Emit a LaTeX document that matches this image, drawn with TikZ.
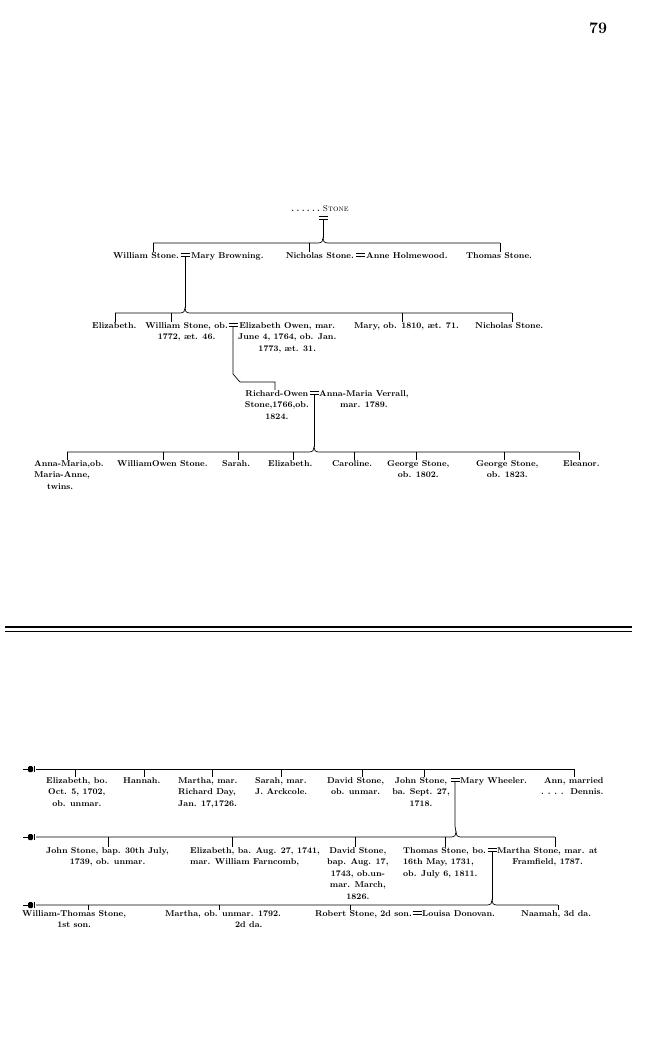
\documentclass[tikz,border=0pt]{standalone}
\usepackage{fontspec}
\newcommand\marsign[1]{\draw[ln] ([xshift=-4.5pt,yshift=1.4pt]#1) -- ++(9,0) ([xshift=-4.5pt,yshift=-1.4pt]#1) -- ++(9,0);}
\newcommand\tick[2]{\draw[ln] (#1) -- (#1 |- #2.north);}
\newcommand\pointhand[1]{%
  \draw[line width=1.1pt] (#1) ++(-13,0.3) -- ++(6,0);
  \fill[rounded corners=1.2pt] (#1) ++(-8,-2.8) rectangle ++(5,5.8);
  \draw[line width=0.9pt] (#1) ++(-1.8,-3.2) -- ++(0,6.6);}
\begin{document}
\begin{tikzpicture}[x=1pt,y=-1pt,
  ln/.style={line width=0.7pt},
  per/.style={inner sep=0pt, font=\fontsize{8.5}{11.5}\selectfont\bfseries\addfontfeatures{FakeBold=1}, align=center},
  perl/.style={per, align=left},
  perr/.style={per, align=right}]
\path[use as bounding box] (0,0) rectangle (650,1040);
\fill[white] (0,0) rectangle (650,1040);

% page number
\node[inner sep=0pt, font=\fontsize{16}{16}\selectfont\bfseries] (pg) at (598,28) {79};

% ---------- upper pedigree ----------
\node[inner sep=0pt, font=\fontsize{8.5}{10}\selectfont\addfontfeatures{FakeBold=1}] (stone) at (320,209) {\textbf{.\;.\;.\;.\;.\;.}\ \textsc{Stone}};
\coordinate (m0) at (323,218);
\marsign{m0}
\coordinate (j0) at (323,238);
\draw[ln] ([yshift=-1.4pt]m0) -- (j0);

% row 1
\node[per, anchor=north east] (ws) at (179,252) {William Stone.};
\coordinate (m1) at (185,255);
\marsign{m1}
\node[per, anchor=north west] (mb) at (191,252) {Mary Browning.};
\node[per, anchor=north east] (ns) at (354,252) {Nicholas Stone.};
\coordinate (m2) at (360,255);
\marsign{m2}
\node[per, anchor=north west] (ah) at (366,252) {Anne Holmewood.};
\node[per, anchor=north west] (ts) at (466,252) {Thomas Stone.};
\draw[ln] (153,243) -- (318,243) .. controls (322,243) and (323,241) .. (j0) .. controls (323,241) and (324,243) .. (328,243) -- (500,243);
\coordinate (b1a) at (153,243);
\coordinate (b1b) at (309,243);
\coordinate (b1c) at (500,243);
\tick{b1a}{ws}
\tick{b1b}{ns}
\tick{b1c}{ts}

% row 2
\coordinate (j1) at (185,308);
\draw[ln] ([yshift=-1.4pt]m1) -- (j1);
\draw[ln] (115,313) -- (180,313) .. controls (184,313) and (185,311) .. (j1) .. controls (185,311) and (186,313) .. (190,313) -- (512,313);
\node[perl, anchor=north west] (el1) at (92,322) {Elizabeth.};
\node[per, anchor=north east] (wso) at (228,322) {William Stone, ob.\\1772, æt. 46.};
\coordinate (m3) at (233,325);
\marsign{m3}
\node[per, anchor=north west] (eo) at (238,322) {Elizabeth Owen, mar.\\June 4, 1764, ob. Jan.\\1773, æt. 31.};
\node[per, anchor=north west] (mary) at (354,322) {Mary, ob. 1810, æt. 71.};
\node[per, anchor=north west] (ns2) at (475,322) {Nicholas Stone.};
\coordinate (b2a) at (115,313);
\coordinate (b2b) at (171,313);
\coordinate (b2c) at (402,313);
\coordinate (b2d) at (512,313);
\tick{b2a}{el1}
\tick{b2b}{wso}
\tick{b2c}{mary}
\tick{b2d}{ns2}

% row 3
\node[per, anchor=north east] (ro) at (309,390) {Richard-Owen\\Stone,1766,ob.\\1824.};
\coordinate (m4) at (314,393);
\marsign{m4}
\node[per, anchor=north west] (amv) at (319,390) {Anna-Maria Verrall,\\mar. 1789.};
\coordinate (k3) at (275,382);
\draw[ln] ([yshift=-1.4pt]m3) -- (233,374) -- (240,382) -- (k3) -- (k3 |- ro.north);

% row 4
\coordinate (j4) at (314,447);
\draw[ln] ([yshift=-1.4pt]m4) -- (j4);
\draw[ln] (67,452) -- (309,452) .. controls (313,452) and (314,450) .. (j4) .. controls (314,450) and (315,452) .. (319,452) -- (579,452);
\node[perl, anchor=north west] (am) at (34,460) {Anna-Maria,ob.\\Maria-Anne,\\\hspace*{13pt}twins.};
\node[per, anchor=north west] (wos) at (117,460) {WilliamOwen Stone.};
\node[per, anchor=north west] (sa) at (222,460) {Sarah.};
\node[per, anchor=north west] (el2) at (268,460) {Elizabeth.};
\node[per, anchor=north west] (ca) at (332,460) {Caroline.};
\node[per, anchor=north west] (gs1) at (387,460) {George Stone,\\ob. 1802.};
\node[per, anchor=north west] (gs2) at (476,460) {George Stone,\\ob. 1823.};
\node[per, anchor=north west] (ele) at (563,460) {Eleanor.};
\coordinate (b4a) at (67,452);
\coordinate (b4b) at (163,452);
\coordinate (b4c) at (238,452);
\coordinate (b4d) at (293,452);
\coordinate (b4e) at (354,452);
\coordinate (b4f) at (416,452);
\coordinate (b4g) at (504,452);
\coordinate (b4h) at (579,452);
\tick{b4a}{am}
\tick{b4b}{wos}
\tick{b4c}{sa}
\tick{b4d}{el2}
\tick{b4e}{ca}
\tick{b4f}{gs1}
\tick{b4g}{gs2}
\tick{b4h}{ele}

% ---------- separator ----------
\coordinate (sl1) at (5,627);
\coordinate (sr1) at (632,627);
\coordinate (sl2) at (5,631.5);
\coordinate (sr2) at (632,631.5);
\draw[line width=1.7pt] (sl1) -- (sr1);
\draw[line width=0.8pt] (sl2) -- (sr2);

% ---------- lower pedigree ----------
% row A
\coordinate (hA) at (36,769);
\pointhand{hA}
\draw[ln] (hA) -- (574,769);
\node[per, anchor=north west] (eA) at (46,777) {Elizabeth, bo.\\Oct. 5, 1702,\\ob. unmar.};
\node[per, anchor=north west] (ha) at (123,777) {Hannah.};
\node[perl, anchor=north west] (ma) at (178,777) {Martha, mar.\\Richard Day,\\Jan. 17,1726.};
\node[perl, anchor=north west] (saA) at (255,777) {Sarah, mar.\\J. Arckcole.};
\node[per, anchor=north west] (dsA) at (327,777) {David Stone,\\ob. unmar.};
\node[per, anchor=north east] (js) at (450,777) {John Stone,\\ba. Sept. 27,\\1718.};
\coordinate (m5) at (455,780);
\marsign{m5}
\node[per, anchor=north west] (mw) at (460,777) {Mary Wheeler.};
\node[perr, anchor=north west] (ann) at (541,777) {Ann, married\\.\;\,.\;\,.\;\,.\ \ Dennis.};
\coordinate (bAa) at (75,769);
\coordinate (bAb) at (144,769);
\coordinate (bAc) at (212,769);
\coordinate (bAd) at (281,769);
\coordinate (bAe) at (362,769);
\coordinate (bAf) at (424,769);
\coordinate (bAg) at (574,769);
\tick{bAa}{eA}
\tick{bAb}{ha}
\tick{bAc}{ma}
\tick{bAd}{saA}
\tick{bAe}{dsA}
\tick{bAf}{js}
\tick{bAg}{ann}

% row B
\coordinate (j5) at (456,832);
\draw[ln] ([yshift=-1.4pt]m5) -- (455,826) -- (j5);
\coordinate (hB) at (36,837);
\pointhand{hB}
\draw[ln] (hB) -- (451,837) .. controls (455,837) and (456,835) .. (j5) .. controls (456,835) and (457,837) .. (461,837) -- (555,837);
\node[per, anchor=north west] (jsB) at (46,847) {John Stone, bap. 30th July,\\1739, ob. unmar.};
\node[perl, anchor=north west] (elB) at (190,847) {Elizabeth, ba. Aug. 27, 1741,\\mar. William Farncomb,};
\node[per, anchor=north west] (dsB) at (327,847) {David Stone,\\bap. Aug. 17,\\1743, ob.un-\\mar. March,\\1826.};
\node[perl, anchor=north west] (tsB) at (403,847) {Thomas Stone, bo.\\16th May, 1731,\\ob. July 6, 1811.};
\coordinate (m6) at (492,850);
\marsign{m6}
\node[per, anchor=north west] (msB) at (497,847) {Martha Stone, mar. at\\Framfield, 1787.};
\coordinate (bBa) at (108,837);
\coordinate (bBb) at (232,837);
\coordinate (bBc) at (355,837);
\coordinate (bBd) at (445,837);
\coordinate (bBe) at (555,837);
\tick{bBa}{jsB}
\tick{bBb}{elB}
\tick{bBc}{dsB}
\tick{bBd}{tsB}
\tick{bBe}{msB}

% row C
\coordinate (j6) at (492,900);
\draw[ln] ([yshift=-1.4pt]m6) -- (j6);
\coordinate (hC) at (36,905);
\pointhand{hC}
\draw[ln] (hC) -- (487,905) .. controls (491,905) and (492,903) .. (j6) .. controls (492,903) and (493,905) .. (497,905) -- (558,905);
\node[per, anchor=north west] (wt) at (22,910) {William-Thomas Stone,\\1st son.};
\node[perl, anchor=north west] (mC) at (165,910) {Martha, ob. unmar. 1792.\\\hspace*{70pt}2d da.};
\node[per, anchor=north east] (rs) at (412,910) {Robert Stone, 2d son.};
\coordinate (m7) at (417,913);
\marsign{m7}
\node[per, anchor=north west] (ld) at (422,910) {Louisa Donovan.};
\node[per, anchor=north west] (na) at (521,910) {Naamah, 3d da.};
\coordinate (bCa) at (88,905);
\coordinate (bCb) at (219,905);
\coordinate (bCc) at (350,905);
\coordinate (bCd) at (558,905);
\tick{bCa}{wt}
\tick{bCb}{mC}
\tick{bCc}{rs}
\tick{bCd}{na}
\end{tikzpicture}
\end{document}
